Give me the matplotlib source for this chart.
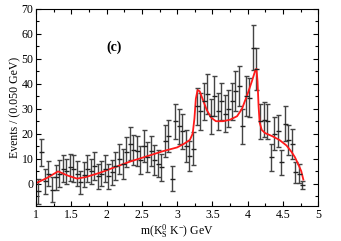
import numpy as np
import matplotlib
matplotlib.use('Agg')
import matplotlib.pyplot as plt
from matplotlib.ticker import MultipleLocator

plt.rcParams['font.family'] = 'serif'
plt.rcParams['font.serif'] = ['Liberation Serif', 'DejaVu Serif']
plt.rcParams['mathtext.fontset'] = 'custom'
plt.rcParams['mathtext.rm'] = 'Liberation Serif'
plt.rcParams['mathtext.it'] = 'Liberation Serif:italic'

# binning: 0.050 GeV bins starting at 1.0 GeV
bin_lo = 1.0
bin_width = 0.05

events = [-3, 12.5, 1, 4, -2.5, 2.5, 4, 6, 5, 6.5,
          6, 4, 0.5, 3.5, 6, 5, 7, 3, 4, 6,
          3, 4.5, 7, 10, 8, 12.5,
          16, 13.5, 13, 9.5, 15, 10.5, 13, 9.5, 8, 6.5,
          17, 19, 2,
          25, 23, 21, 15, 11, 14, 31, 29, 33, 36,
          27, 35, 29, 33, 28, 30, 33, 37, 39, 23,
          35, 34.5, 54.5, 46, 25, 25.5, 25, 10.5, 20, 21,
          8.5, 24, 17.5, 16, 4.5, 4, -0.5]

errors = [5, 5.5, 5, 5, 5, 5, 5.5, 5.5, 5, 5.5,
          5.5, 5, 4.5, 5, 5.5, 5, 5.5, 5, 5, 5.5,
          5, 5, 5.5, 6, 6, 6,
          6.5, 6, 6, 5.5, 6.5, 6, 6, 6, 5.5, 5.5,
          6.5, 6.5, 5,
          7, 7, 7, 6.5, 6, 6.5, 7.5, 7.5, 7.5, 8,
          7, 8, 7.5, 7.5, 7.5, 7.5, 7.5, 8, 8, 7,
          8, 8, 9, 8.5, 7, 7, 7, 5.5, 6.5, 6.5,
          5, 7, 6, 6, 4.3, 3.7, 1.7]

# fit curve
fit_m = [1.0, 1.15, 1.31, 1.45, 1.58, 1.7, 1.9, 2.1, 2.34, 2.6,
         2.8, 3.0, 3.1, 3.18, 3.22, 3.245, 3.265, 3.29, 3.32, 3.36,
         3.42, 3.48, 3.55, 3.65, 3.75, 3.85, 3.92, 4.0, 4.06, 4.11,
         4.125, 4.14, 4.155, 4.17, 4.2, 4.25, 4.35, 4.45, 4.55, 4.62,
         4.67, 4.72, 4.76, 4.79]
fit_y = [0.2, 2.2, 4.9, 3.2, 2.0, 2.6, 4.3, 6.4, 8.9, 11.2,
         13.0, 14.5, 16.0, 17.5, 20.0, 26.0, 34.0, 37.5, 37.0, 34.0,
         29.5, 26.5, 25.0, 25.0, 25.6, 27.0, 30.0, 36.0, 41.0, 45.5,
         46.0, 41.0, 31.0, 24.5, 21.5, 20.2, 19.0, 17.5, 15.3, 12.8,
         10.6, 7.6, 5.0, 1.6]

mass = bin_lo + bin_width * (np.arange(len(events)) + 0.5)

fig = plt.figure(figsize=(3.41, 2.41), dpi=100)
ax = fig.add_axes([0.106, 0.145, 0.827, 0.818])

ax.errorbar(mass, events, yerr=errors, fmt='_', color='#222222', ecolor='#444444',
            elinewidth=1.0, capsize=1.8, capthick=1.0, markersize=3.6, mew=1.0)
ax.plot(fit_m, fit_y, color='#ff1a1a', lw=1.3)

ax.set_xlim(1, 5)
ax.set_ylim(-9, 70)
ax.xaxis.set_major_locator(MultipleLocator(0.5))
ax.xaxis.set_minor_locator(MultipleLocator(0.25))
ax.yaxis.set_major_locator(MultipleLocator(10))
ax.yaxis.set_minor_locator(MultipleLocator(5))
ax.tick_params(which='both', direction='in', top=True, right=True, labelsize=8.5, pad=2)
ax.tick_params(which='major', length=3.5, width=0.8)
ax.tick_params(which='minor', length=2, width=0.8)
ax.set_xticks([1, 1.5, 2, 2.5, 3, 3.5, 4, 4.5, 5])
ax.set_xticklabels(['1', '1.5', '2', '2.5', '3', '3.5', '4', '4.5', '5'])

ax.set_xlabel(r'm(K$^{0}_{\rm S}$ K$^{-}$) GeV', fontsize=8.5, labelpad=1)
ax.set_ylabel('Events / (0.050 GeV)', fontsize=8.5, labelpad=0)
ax.text(2.11, 54.5, '(c)', fontsize=10, fontweight='bold', ha='center', va='center')

fig.savefig('out.png', dpi=100)
